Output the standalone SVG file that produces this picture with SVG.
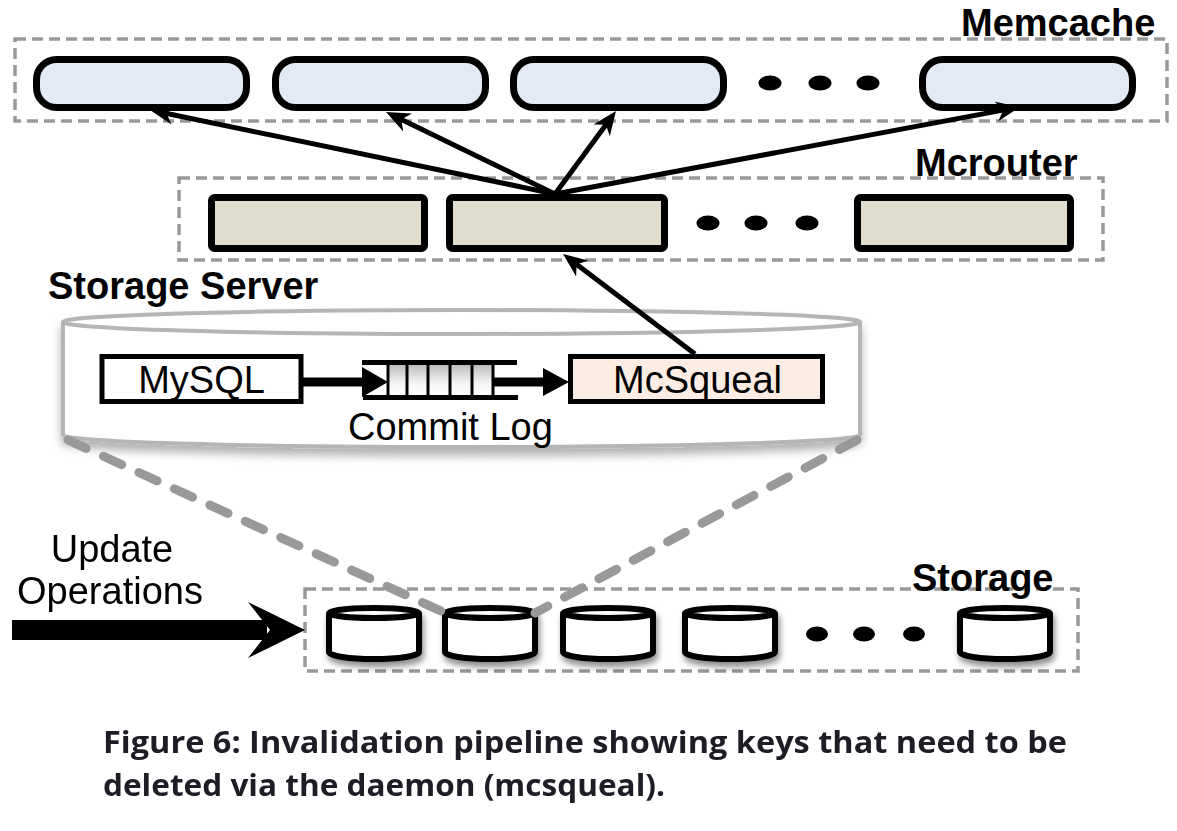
<svg xmlns="http://www.w3.org/2000/svg" xmlns:xlink="http://www.w3.org/1999/xlink" width="1177" height="831" viewBox="0 0 1177 831">
<style>
.lbl{font-family:"Liberation Sans",Arial,sans-serif;font-size:38px;fill:#000}
.b{font-weight:bold}
.cont{fill:none;stroke:#999;stroke-width:3.5;stroke-dasharray:11 6}
.mc{fill:#E3EAF4;stroke:#000;stroke-width:7}
.mr{fill:#E0DDCC;stroke:#000;stroke-width:7}
.dot{fill:#000}
.conn{stroke:#000;stroke-width:5;fill:none;marker-end:url(#ah)}
.gd{stroke:#999;stroke-width:9;fill:none;stroke-dasharray:20 19;stroke-linecap:round}
.cap{font-family:"Open Sans","Noto Sans",sans-serif;font-weight:700;font-size:31px;fill:#1d1d26}
</style>
<defs>
<marker id="ah" viewBox="0 0 24 20" refX="8" refY="10" markerWidth="24" markerHeight="20" markerUnits="userSpaceOnUse" orient="auto">
<path d="M0,0 L24,10 L0,20 L7,10 z" fill="#000"/>
</marker>
<filter id="sh" x="-20%" y="-30%" width="140%" height="180%">
<feDropShadow dx="2" dy="5" stdDeviation="3" flood-color="#000" flood-opacity="0.45"/>
</filter>
<filter id="sh2" x="-5%" y="-20%" width="110%" height="160%">
<feDropShadow dx="0" dy="7" stdDeviation="5" flood-color="#000" flood-opacity="0.3"/>
</filter>
<linearGradient id="cell" x1="0" y1="0" x2="0" y2="1">
<stop offset="0" stop-color="#bdbdbd"/>
<stop offset="0.6" stop-color="#f4f4f4"/>
<stop offset="1" stop-color="#ffffff"/>
</linearGradient>
<g id="cyl">
<path d="M-45,613 L-45,652 A45,7 0 0 0 45,652 L45,613" fill="#fff" stroke="#000" stroke-width="6" stroke-linejoin="round"/>
<ellipse cx="0" cy="613" rx="45" ry="5" fill="#fff" stroke="#000" stroke-width="6"/>
</g>
</defs>
<rect width="1177" height="831" fill="#fff"/>

<!-- Memcache tier -->
<g id="memcache">
<rect class="cont" x="15" y="39" width="1152" height="82"/>
<text class="lbl b" x="961" y="36">Memcache</text>
<rect class="mc" x="36.5" y="59.5" width="210" height="48" rx="20"/>
<rect class="mc" x="275.5" y="59.5" width="210" height="48" rx="20"/>
<rect class="mc" x="513.5" y="59.5" width="210" height="48" rx="20"/>
<rect class="mc" x="922.5" y="59.5" width="210" height="48" rx="20"/>
<ellipse class="dot" cx="770" cy="83" rx="11.5" ry="7.5"/>
<ellipse class="dot" cx="820" cy="83" rx="11.5" ry="7.5"/>
<ellipse class="dot" cx="868" cy="83" rx="11.5" ry="7.5"/>
</g>

<!-- Mcrouter tier -->
<g id="mcrouter">
<rect class="cont" x="179" y="178" width="924" height="82"/>
<text class="lbl b" x="915" y="176">Mcrouter</text>
<rect class="mr" x="211.5" y="197.5" width="213" height="51" rx="3"/>
<rect class="mr" x="449.5" y="197.5" width="215" height="51" rx="3"/>
<rect class="mr" x="857.5" y="197.5" width="213" height="51" rx="3"/>
<ellipse class="dot" cx="708" cy="223" rx="11.5" ry="7.5"/>
<ellipse class="dot" cx="756" cy="223" rx="11.5" ry="7.5"/>
<ellipse class="dot" cx="807" cy="223" rx="11.5" ry="7.5"/>
</g>

<!-- Storage server -->
<g id="storage-server">
<text class="lbl b" x="48" y="299">Storage Server</text>
<g filter="url(#sh2)">
<path d="M63,322 L63,435 A398.5,12 0 0 0 860,435 L860,322" fill="#fff" stroke="#b5b5b5" stroke-width="4"/>
<ellipse cx="461.5" cy="322" rx="398.5" ry="12" fill="#fff" stroke="#b5b5b5" stroke-width="4"/>
</g>
</g>

<g id="mysql">
<rect x="102" y="356.5" width="199" height="45" fill="#fff" stroke="#000" stroke-width="5"/>
<text class="lbl" x="201.5" y="393" text-anchor="middle">MySQL</text>
</g>

<g id="commit-log">
<rect x="387" y="365" width="106" height="30" fill="url(#cell)"/>
<g stroke="#000" stroke-width="3">
<line x1="388" y1="364" x2="388" y2="396"/>
<line x1="407" y1="364" x2="407" y2="396"/>
<line x1="428" y1="364" x2="428" y2="396"/>
<line x1="450" y1="364" x2="450" y2="396"/>
<line x1="472" y1="364" x2="472" y2="396"/>
<line x1="493" y1="364" x2="493" y2="396"/>
</g>
<line x1="362" y1="362.5" x2="517" y2="362.5" stroke="#000" stroke-width="5"/>
<line x1="363" y1="397.5" x2="518" y2="397.5" stroke="#000" stroke-width="5"/>
<text class="lbl" x="348" y="440">Commit Log</text>
</g>

<g id="mcsqueal">
<rect x="570.5" y="356.5" width="252" height="45" fill="#FBEDE3" stroke="#000" stroke-width="5"/>
<text class="lbl" x="613" y="393">McSqueal</text>
</g>

<!-- Storage tier -->
<g id="storage">
<rect class="cont" x="305" y="589" width="773" height="82"/>
<text class="lbl b" x="912" y="591">Storage</text>
<g filter="url(#sh)">
<use xlink:href="#cyl" transform="translate(374,0)"/>
<use xlink:href="#cyl" transform="translate(490,0)"/>
<use xlink:href="#cyl" transform="translate(608,0)"/>
<use xlink:href="#cyl" transform="translate(730,0)"/>
<use xlink:href="#cyl" transform="translate(1005,0)"/>
</g>
<ellipse class="dot" cx="817" cy="634" rx="11" ry="7.5"/>
<ellipse class="dot" cx="864" cy="634" rx="11" ry="7.5"/>
<ellipse class="dot" cx="914" cy="634" rx="11" ry="7.5"/>
</g>

<g id="update-ops">
<text class="lbl" x="112" y="562" text-anchor="middle">Update</text>
<text class="lbl" x="110" y="604" text-anchor="middle">Operations</text>
</g>

<!-- Connectors -->
<g id="connectors">
<line class="conn" x1="555" y1="194" x2="165.7" y2="113.2"/>
<line class="conn" x1="555" y1="194" x2="400.4" y2="119"/>
<line class="conn" x1="555" y1="194" x2="606.5" y2="123.9"/>
<line class="conn" x1="555" y1="194" x2="1004.3" y2="109.9"/>
<line class="conn" x1="695" y1="354" x2="575.8" y2="263.7"/>
<rect x="303" y="377.5" width="66" height="9" fill="#000"/>
<polygon points="362,367 388,382 362,397" fill="#000"/>
<rect x="493" y="377.5" width="55" height="9" fill="#000"/>
<polygon points="543,368 569,382 543,396" fill="#000"/>
<line class="gd" x1="68" y1="440" x2="443" y2="612"/>
<line class="gd" x1="857" y1="440" x2="535" y2="613"/>
<rect x="12" y="620" width="255" height="20" fill="#000"/>
<polygon points="248,602 305,630 248,658 270,630" fill="#000"/>
</g>

<!-- Caption -->
<g id="caption">
<text class="cap" x="103" y="753" textLength="964" lengthAdjust="spacingAndGlyphs">Figure 6: Invalidation pipeline showing keys that need to be</text>
<text class="cap" x="103" y="796" textLength="562" lengthAdjust="spacingAndGlyphs">deleted via the daemon (mcsqueal).</text>
</g>
</svg>
